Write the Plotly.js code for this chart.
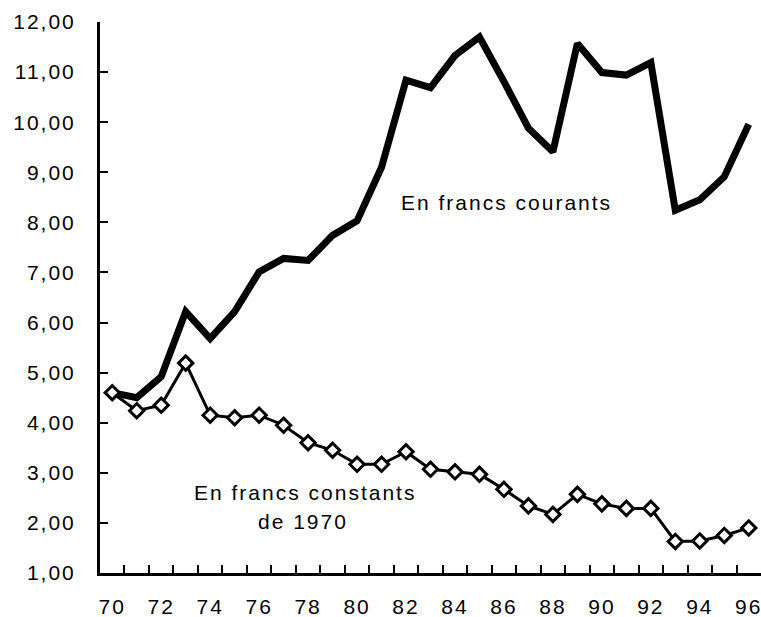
<!DOCTYPE html>
<html>
<head>
<meta charset="utf-8">
<script src="https://cdn.plot.ly/plotly-3.0.1.min.js"></script>
<style>
  html, body { margin: 0; padding: 0; background: #fff; }
  #chart { width: 761px; height: 617px; }
  .main-svg text { letter-spacing: 2px; }
</style>
</head>
<body>
<div id="chart"></div>
<script>
// Years (19xx)
const years = [70,71,72,73,74,75,76,77,78,79,80,81,82,83,84,85,86,87,88,89,90,91,92,93,94,95,96];

// En francs courants
const courants = [4.60,4.50,4.92,6.22,5.68,6.22,7.01,7.28,7.24,7.74,8.03,9.10,10.84,10.69,11.33,11.70,10.81,9.88,9.41,11.57,10.99,10.94,11.19,8.24,8.45,8.91,9.96];

// En francs constants de 1970
const constants = [4.60,4.24,4.35,5.19,4.15,4.10,4.15,3.95,3.60,3.45,3.17,3.17,3.42,3.07,3.02,2.97,2.67,2.34,2.17,2.57,2.38,2.29,2.29,1.63,1.64,1.75,1.90];

// Axis labels
const xTickVals = [70,72,74,76,78,80,82,84,86,88,90,92,94,96];
const xTickText = ['70','72','74','76','78','80','82','84','86','88','90','92','94','96'];
const yTickVals = [1,2,3,4,5,6,7,8,9,10,11,12];
const yTickText = ['1,00','2,00','3,00','4,00','5,00','6,00','7,00','8,00','9,00','10,00','11,00','12,00'];

// Series labels
const labelCourants = 'En francs courants';
const labelConstants1 = 'En francs constants';
const labelConstants2 = 'de 1970';

const FONT = 'Liberation Sans, Arial, Helvetica, sans-serif';
const FS = 21;

const traces = [
  {
    x: years, y: courants, type: 'scatter', mode: 'lines',
    line: {color: '#000', width: 7, shape: 'linear'},
    name: labelCourants, hoverinfo: 'skip'
  },
  {
    x: years, y: constants, type: 'scatter', mode: 'lines+markers',
    line: {color: '#000', width: 3},
    marker: {symbol: 'diamond', size: 11, color: '#fff', line: {color: '#000', width: 3}},
    name: labelConstants1 + ' ' + labelConstants2, hoverinfo: 'skip'
  }
];

const minorX = years.slice(0, -1).map(v => v + 0.5);

const layout = {
  width: 761, height: 617,
  margin: {l: 100, r: 0, t: 22, b: 44, pad: 0},
  paper_bgcolor: '#fff', plot_bgcolor: '#fff',
  showlegend: false,
  font: {family: FONT, size: FS, color: '#000'},
  xaxis: {
    range: [69.5, 96.5],
    tickmode: 'array', tickvals: xTickVals, ticktext: xTickText,
    ticks: '', showgrid: false, zeroline: false,
    showline: true, linecolor: '#000', linewidth: 3,
    ticklabelstandoff: 13,
    tickfont: {family: FONT, size: FS, color: '#000'},
    minor: {tickmode: 'array', tickvals: minorX, ticks: 'inside', ticklen: 8, tickwidth: 2, tickcolor: '#000', showgrid: false},
    fixedrange: true
  },
  yaxis: {
    range: [1, 12],
    tickmode: 'array', tickvals: yTickVals, ticktext: yTickText,
    ticks: 'inside', ticklen: 8, tickwidth: 2, tickcolor: '#000',
    showgrid: false, zeroline: false,
    showline: true, linecolor: '#000', linewidth: 3,
    ticklabelstandoff: 17,
    tickfont: {family: FONT, size: FS, color: '#000'},
    fixedrange: true
  },
  annotations: [
    {x: 86.12, y: 8.40, xref: 'x', yref: 'y', text: labelCourants, showarrow: false,
     xanchor: 'center', yanchor: 'middle', font: {family: FONT, size: FS, color: '#000'}},
    {x: 77.88, y: 2.60, xref: 'x', yref: 'y', text: labelConstants1, showarrow: false,
     xanchor: 'center', yanchor: 'middle', font: {family: FONT, size: FS, color: '#000'}},
    {x: 77.80, y: 2.02, xref: 'x', yref: 'y', text: labelConstants2, showarrow: false,
     xanchor: 'center', yanchor: 'middle', font: {family: FONT, size: FS, color: '#000'}}
  ]
};

Plotly.newPlot('chart', traces, layout, {displayModeBar: false, staticPlot: true});
</script>
</body>
</html>
